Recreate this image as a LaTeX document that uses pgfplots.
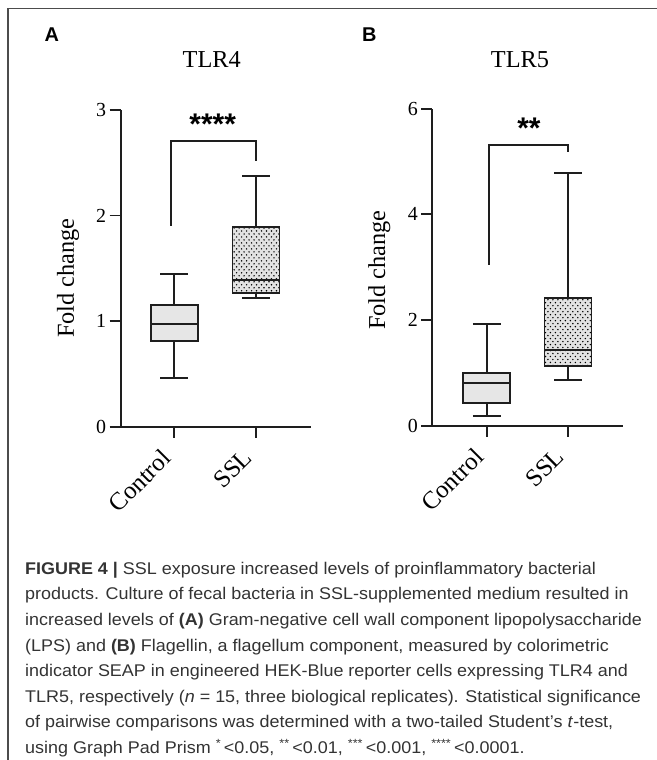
\documentclass[border=0pt]{standalone}
\usepackage{fontspec}
\setmainfont{Liberation Serif}
\newfontfamily\sansf{Liberation Sans}
\newfontfamily\capfont[FakeStretch=1.06]{Liberation Sans}
\usepackage{pgfplots}
\pgfplotsset{compat=1.18}
\usepgfplotslibrary{statistics}
\usetikzlibrary{patterns}
\definecolor{axc}{HTML}{1E1E1E}
\definecolor{ctrlfill}{HTML}{E6E6E6}
\definecolor{sslfill}{HTML}{E2E2E2}
\definecolor{captxt}{HTML}{333333}
\pgfdeclarepatternformonly{mydots}{\pgfqpoint{-1pt}{-1pt}}{\pgfqpoint{6pt}{7pt}}{\pgfqpoint{5pt}{6pt}}{%
  \pgfpathcircle{\pgfqpoint{0pt}{0pt}}{0.8pt}%
  \pgfpathcircle{\pgfqpoint{2.5pt}{3pt}}{0.8pt}%
  \pgfusepath{fill}}
\pgfplotsset{
  prismbox/.style={
    scale only axis,
    axis lines=left,
    axis line style={-, line width=1.8bp, axc},
    tick align=outside,
    major tick length=11bp,
    tick style={line width=1.8bp, axc},
    xtick={1,2}, xticklabels={Control,SSL},
    xticklabel style={xshift=-14bp, yshift=-5bp, rotate=45, anchor=north east, font=\fontsize{25}{26}\selectfont},
    yticklabel style={font=\fontsize{20}{21}\selectfont},
    /pgf/number format/assume math mode=true,
    clip=false,
    boxplot/draw direction=y,
  },
  ctrl/.style={draw=axc, fill=ctrlfill, line width=1.8bp, solid},
  sslb/.style={draw=axc, fill=sslfill, line width=1.8bp, solid,
    boxplot/every box/.append style={postaction={pattern=mydots, pattern color=black}}},
  brk/.style={axc, line width=1.8bp, mark=none},
}
\begin{document}
\begin{tikzpicture}[x=1bp,y=-1bp]
\path[use as bounding box] (0,0) rectangle (657,760);
% frame
\draw[line width=1.5bp, black!70] (657,8.7) -- (8,8.7) -- (8,760);
% panel letters and titles
\node[font=\sansf\bfseries\fontsize{20}{20}\selectfont] at (51.7,35) {A};
\node[font=\sansf\bfseries\fontsize{20}{20}\selectfont] at (369.3,35) {B};
\node[font=\fontsize{24.4}{25}\selectfont] at (211.7,60) {TLR4};
\node[font=\fontsize{24.4}{25}\selectfont] at (520,60) {TLR5};
\node[font=\fontsize{24.4}{25}\selectfont, rotate=90] at (68,278) {Fold change};
\node[font=\fontsize{24.4}{25}\selectfont, rotate=90] at (379.3,270) {Fold change};

% Panel A
\begin{axis}[prismbox, at={(120.7bp,-426.7bp)}, anchor=south west,
  width=190.3bp, height=316.7bp, xmin=0.344, xmax=2.673, ymin=0, ymax=3, ytick={0,1,2,3}]
\addplot[ctrl, boxplot prepared={draw position=1, lower whisker=0.458, lower quartile=0.814,
  median=0.97, upper quartile=1.15, upper whisker=1.446, box extend=0.577, whisker extend=0.343}] coordinates {};
\addplot[sslb, boxplot prepared={draw position=2, lower whisker=1.222, lower quartile=1.269,
  median=1.389, upper quartile=1.891, upper whisker=2.374, box extend=0.577, whisker extend=0.343}] coordinates {};
\addplot[brk] coordinates {(0.96,1.903) (0.96,2.708) (2,2.708) (2,2.516)};
\node[font=\sansf\bfseries\fontsize{30}{30}\selectfont, anchor=base] at (axis cs:1.47,2.764) {****};
\end{axis}

% Panel B
\begin{axis}[prismbox, at={(432.3bp,-425.7bp)}, anchor=south west,
  width=190.4bp, height=317bp, xmin=0.331, xmax=2.673, ymin=0, ymax=6, ytick={0,2,4,6}]
\addplot[ctrl, boxplot prepared={draw position=1, lower whisker=0.178, lower quartile=0.435,
  median=0.814, upper quartile=0.992, upper whisker=1.925, box extend=0.577, whisker extend=0.343}] coordinates {};
\addplot[sslb, boxplot prepared={draw position=2, lower whisker=0.859, lower quartile=1.136,
  median=1.433, upper quartile=2.417, upper whisker=4.778, box extend=0.577, whisker extend=0.343}] coordinates {};
\addplot[brk] coordinates {(1.03,3.042) (1.03,5.307) (2,5.307) (2,5.19)};
\node[font=\sansf\bfseries\fontsize{30}{30}\selectfont, anchor=base] at (axis cs:1.52,5.43) {**};
\end{axis}

% caption
\begin{scope}[every node/.style={anchor=base west, inner sep=0pt, font=\capfont\fontsize{17}{19}\selectfont, text=captxt}]
\node at (25,574.3) {\textbf{FIGURE 4 |} SSL exposure increased levels of proinflammatory bacterial};
\node at (25,599.9) {products. Culture of fecal bacteria in SSL-supplemented medium resulted in};
\node at (25,625.5) {increased levels of \textbf{(A)} Gram-negative cell wall component lipopolysaccharide};
\node at (25,651.1) {(LPS) and \textbf{(B)} Flagellin, a flagellum component, measured by colorimetric};
\node at (25,676.7) {indicator SEAP in engineered HEK-Blue reporter cells expressing TLR4 and};
\node at (25,702.3) {TLR5, respectively (\textit{n} = 15, three biological replicates). Statistical significance};
\node at (25,727.9) {of pairwise comparisons was determined with a two-tailed Student’s \textit{t}-test,};
\node at (25,753.5) {using Graph Pad Prism \textsuperscript{*}\,<0.05, \textsuperscript{**}\,<0.01, \textsuperscript{***}\,<0.001, \textsuperscript{****}\,<0.0001.};
\end{scope}
\end{tikzpicture}
\end{document}
